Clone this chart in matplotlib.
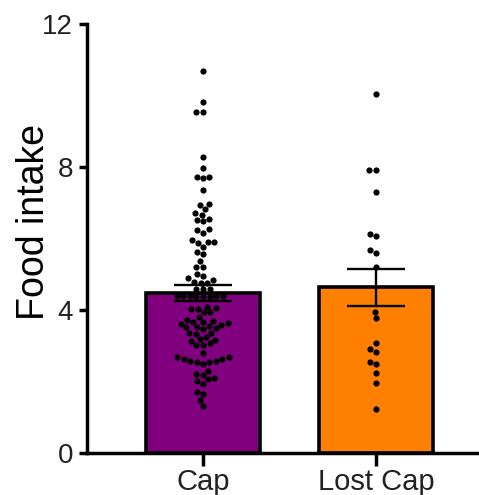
import numpy as np
import matplotlib
matplotlib.use("Agg")
import matplotlib.pyplot as plt

plt.rcParams['font.family'] = ['Liberation Sans', 'DejaVu Sans']

# data
groups = ["Cap", "Lost Cap"]
bar_means = [4.47, 4.63]
bar_sems = [0.23, 0.51]
bar_colors = ["#800080", "#FF8000"]

cap_values = [
    10.68, 9.80, 9.54, 9.54,
    8.26, 7.95, 7.72, 7.67, 7.72, 7.35,
    6.92, 6.81, 6.96, 6.71, 6.65,
    6.54, 6.47, 6.51,
    6.23, 6.16, 6.26,
    5.89, 5.86, 5.89, 5.96, 5.76,
    5.62, 5.55, 5.36, 5.20, 5.20,
    4.95, 4.99, 4.83, 4.88, 4.76, 4.76, 4.78,
    4.59, 4.59, 4.59,
    4.36, 4.38, 4.40, 4.37, 4.39, 4.38, 4.36, 4.40,
    4.01, 3.93, 3.81, 3.93, 4.01, 4.09, 4.04,
    3.72, 3.67, 3.62, 3.58, 3.51, 3.48, 3.46, 3.51, 3.55, 3.60, 3.67, 3.70,
    3.34, 3.32, 3.18, 3.06, 3.02, 3.13, 3.16, 3.02, 3.23, 3.34,
    2.80,
    2.67, 2.62, 2.58, 2.55, 2.50, 2.53, 2.58, 2.62, 2.67,
    2.18, 2.29, 2.21, 2.09, 2.06, 1.93, 2.02,
    1.71, 1.65, 1.48, 1.32,
]
lost_cap_values = [
    10.04, 7.91, 7.91, 7.29, 6.12, 6.06, 5.59, 5.67, 5.20,
    3.95, 3.77, 3.07, 2.91, 2.82, 2.54, 2.49, 2.23, 1.96, 1.23,
]
yticks = [0, 4, 8, 12]


def swarm_offsets(y_px, diam):
    # simple beeswarm: put each point as near the centre as it can go
    order = np.argsort(y_px)
    xs = np.zeros(len(y_px))
    placed = []
    for i in order:
        y = y_px[i]
        near = [(xj, yj) for xj, yj in placed if abs(yj - y) < diam]
        cands = [0.0]
        for xj, yj in near:
            dx = np.sqrt(diam ** 2 - (yj - y) ** 2)
            cands += [xj - dx, xj + dx]
        cands.sort(key=lambda c: (round(abs(c), 6), c))
        for c in cands:
            if all((c - xj) ** 2 + (y - yj) ** 2 >= diam ** 2 - 1e-6 for xj, yj in near):
                xs[i] = c
                break
        placed.append((xs[i], y))
    return xs


fig = plt.figure(figsize=(4.79, 4.95), dpi=100)
ax = fig.add_axes([87 / 479, 42 / 495, 1 - 87 / 479, 429.5 / 495])
ax.set_xlim(-0.671, 1.595)
ax.set_ylim(0, 12)

x = np.arange(len(groups))
ax.bar(x, bar_means, width=0.66, color=bar_colors, edgecolor="black",
       linewidth=2.6, zorder=2)
ax.errorbar(x, bar_means, yerr=bar_sems, fmt="none", ecolor="black",
            elinewidth=1.7, capsize=21, capthick=1.7, zorder=3)

# pixel scale so the swarm spacing is in screen units
fig.canvas.draw()
p0 = ax.transData.transform((0, 0))
p1 = ax.transData.transform((1, 1))
px_x = p1[0] - p0[0]
px_y = p1[1] - p0[1]

for i, vals in enumerate([cap_values, lost_cap_values]):
    vals = np.array(vals)
    offs = swarm_offsets(vals * px_y, 6.6) / px_x
    ax.scatter(i + offs, vals, s=20, color="black", linewidths=0, zorder=4)

for side in ["top", "right"]:
    ax.spines[side].set_visible(False)
for side in ["left", "bottom"]:
    ax.spines[side].set_linewidth(2.5)

ax.set_yticks(yticks)
ax.set_xticks(x)
ax.set_xticklabels(groups)
ax.tick_params(axis="y", width=2.5, length=6, labelsize=20, pad=4,
               labelcolor="#222222")
ax.tick_params(axis="x", width=2.5, length=9, labelsize=21, pad=2,
               labelcolor="#222222")

fig.text(34 / 479, 1 - 222 / 495, "Food intake", rotation=90, fontsize=27,
         ha="center", va="center")

fig.savefig("out.png", dpi=100)
